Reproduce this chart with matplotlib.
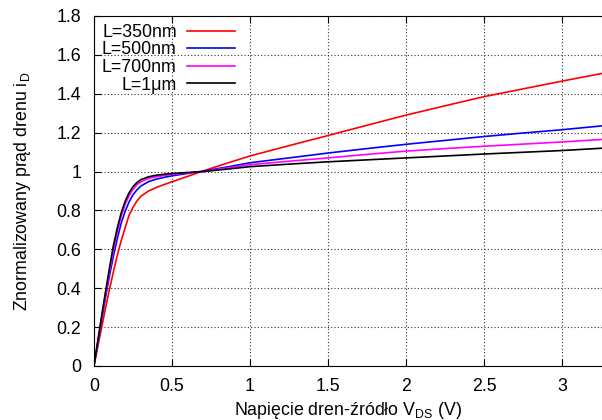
import matplotlib
matplotlib.use('Agg')
import matplotlib.pyplot as plt

plt.rcParams['font.family'] = ['Liberation Sans', 'DejaVu Sans']
plt.rcParams['mathtext.fontset'] = 'custom'
plt.rcParams['mathtext.rm'] = 'Liberation Sans'
plt.rcParams['font.size'] = 12.8

# drain voltage samples (V)
vds = [0, 0.025, 0.05, 0.075, 0.1, 0.125, 0.15, 0.175, 0.2, 0.225, 0.25, 0.275,
       0.3, 0.35, 0.4, 0.45, 0.5, 0.6, 0.7, 0.85, 1.0, 1.25, 1.5, 1.75, 2.0,
       2.25, 2.5, 2.75, 3.0, 3.26]

# normalized drain current, one list per channel length
i_350 = [0, 0.10, 0.20, 0.30, 0.395, 0.485, 0.57, 0.645, 0.71, 0.775, 0.815, 0.848,
         0.872, 0.90, 0.918, 0.933, 0.947, 0.975, 1.003, 1.042, 1.08, 1.133, 1.185,
         1.238, 1.29, 1.338, 1.385, 1.425, 1.465, 1.505]
i_500 = [0, 0.12, 0.24, 0.355, 0.465, 0.565, 0.655, 0.735, 0.795, 0.843, 0.88, 0.905,
         0.925, 0.948, 0.961, 0.97, 0.978, 0.99, 1.002, 1.023, 1.045, 1.07, 1.095,
         1.118, 1.14, 1.16, 1.18, 1.198, 1.215, 1.235]
i_700 = [0, 0.125, 0.25, 0.37, 0.485, 0.595, 0.69, 0.77, 0.83, 0.875, 0.908, 0.932,
         0.947, 0.964, 0.973, 0.98, 0.985, 0.993, 1.0, 1.018, 1.035, 1.053, 1.07,
         1.088, 1.105, 1.118, 1.13, 1.141, 1.152, 1.165]
i_1um = [0, 0.13, 0.26, 0.385, 0.505, 0.62, 0.71, 0.788, 0.847, 0.89, 0.922, 0.943,
         0.958, 0.973, 0.981, 0.986, 0.99, 0.995, 1.0, 1.012, 1.025, 1.038, 1.05,
         1.06, 1.07, 1.08, 1.09, 1.099, 1.108, 1.12]

labels = ['L=350nm', 'L=500nm', 'L=700nm', 'L=1μm']
colors = ['#ff0000', '#0000ff', '#ff00ff', '#000000']

fig = plt.figure(figsize=(6.02, 4.2), dpi=100)
ax = fig.add_axes([0.156, 0.1286, 0.844, 0.8334])

for ys, lab, col in zip([i_350, i_500, i_700, i_1um], labels, colors):
    ax.plot(vds, ys, color=col, lw=1.2, label=lab)

ax.set_xlim(0, 3.256)
ax.set_ylim(0, 1.8)
ax.set_xticks([0, 0.5, 1, 1.5, 2, 2.5, 3])
ax.set_xticklabels(['0', '0.5', '1', '1.5', '2', '2.5', '3'])
ax.set_yticks([0, 0.2, 0.4, 0.6, 0.8, 1, 1.2, 1.4, 1.6, 1.8])
ax.set_yticklabels(['0', '0.2', '0.4', '0.6', '0.8', '1', '1.2', '1.4', '1.6', '1.8'])
ax.tick_params(direction='in', top=True, right=False, length=5, width=0.8, pad=9,
               labelsize=12.8)
ax.spines['right'].set_visible(False)
ax.grid(True, color='#333333', linestyle=(0, (1, 2)), linewidth=0.8)

ax.set_xlabel('Napięcie dren-źródło V$_\\mathrm{DS}$ (V)', labelpad=3)
ax.set_ylabel('Znormalizowany prąd drenu i$_\\mathrm{D}$', labelpad=17)

leg = ax.legend(loc='upper left', markerfirst=False, frameon=False,
                handlelength=2.7, handletextpad=0.6, labelspacing=0.03,
                borderaxespad=0.05, fontsize=12.8)

fig.savefig('out.png', dpi=100)
